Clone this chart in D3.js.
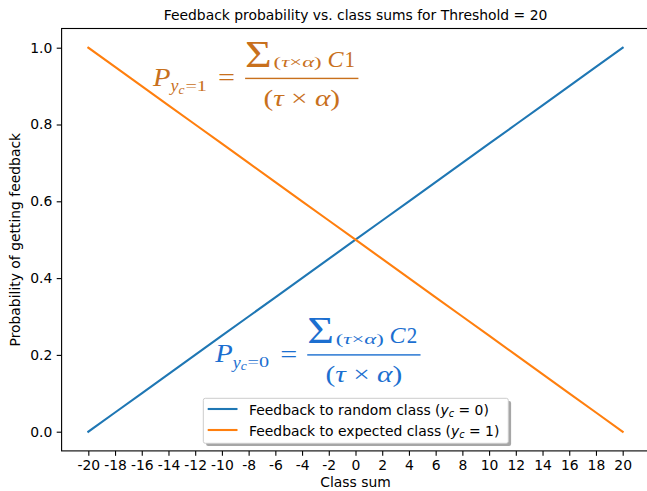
<!DOCTYPE html>
<html>
<head>
<meta charset="utf-8">
<script src="https://cdn.jsdelivr.net/npm/d3@7"></script>
<style>
  html, body { margin: 0; padding: 0; background: #fff; }
  svg { display: block; }
  text { font-family: "DejaVu Sans", sans-serif; }
</style>
</head>
<body>
<svg id="chart" width="647" height="491"></svg>
<script>
// Class sums and the two feedback probabilities
const classSums = [-20, -18, -16, -14, -12, -10, -8, -6, -4, -2, 0, 2, 4, 6, 8, 10, 12, 14, 16, 18, 20];
const probRandom = [0.0, 0.05, 0.1, 0.15, 0.2, 0.25, 0.3, 0.35, 0.4, 0.45, 0.5, 0.55, 0.6, 0.65, 0.7, 0.75, 0.8, 0.85, 0.9, 0.95, 1.0];
const probExpected = [1.0, 0.95, 0.9, 0.85, 0.8, 0.75, 0.7, 0.65, 0.6, 0.55, 0.5, 0.45, 0.4, 0.35, 0.3, 0.25, 0.2, 0.15, 0.1, 0.05, 0.0];
const xTickValues = [-20, -18, -16, -14, -12, -10, -8, -6, -4, -2, 0, 2, 4, 6, 8, 10, 12, 14, 16, 18, 20];
const xTickLabels = ["-20", "-18", "-16", "-14", "-12", "-10", "-8", "-6", "-4", "-2", "0", "2", "4", "6", "8", "10", "12", "14", "16", "18", "20"];
const yTickValues = [0.0, 0.2, 0.4, 0.6, 0.8, 1.0];
const yTickLabels = ["0.0", "0.2", "0.4", "0.6", "0.8", "1.0"];
const seriesNames = ["Feedback to random class", "Feedback to expected class"];
const seriesLabelValues = ["0", "1"];

const svg = d3.select("#chart");
const plot = { left: 61.6, right: 649.4, top: 28.5, bottom: 450.9 };

const x = d3.scaleLinear().domain([-22, 22]).range([plot.left, plot.right]);
const y = d3.scaleLinear().domain([-0.05, 1.05]).range([plot.bottom, plot.top]);

const BLUE = "#1f77b4", ORANGE = "#ff7f0e";
const FS = 13.9;

// Axes
const xAxis = d3.axisBottom(x)
  .tickValues(xTickValues)
  .tickFormat((d, i) => xTickLabels[i])
  .tickSize(4.9).tickPadding(4.4);
const yAxis = d3.axisLeft(y)
  .tickValues(yTickValues)
  .tickFormat((d, i) => yTickLabels[i])
  .tickSize(4.9).tickPadding(4.4);

const gx = svg.append("g").attr("transform", `translate(0,${plot.bottom})`).call(xAxis);
const gy = svg.append("g").attr("transform", `translate(${plot.left},0)`).call(yAxis);
[gx, gy].forEach(g => {
  g.select(".domain").remove();
  g.selectAll(".tick line").attr("stroke", "#000").attr("stroke-width", 1.1);
  g.selectAll(".tick text").attr("fill", "#000").style("font-size", FS + "px")
    .style("font-family", "DejaVu Sans");
});

// Lines
const lineGen = d3.line().x(d => x(d[0])).y(d => y(d[1]));
svg.append("clipPath").attr("id", "plotclip").append("rect")
  .attr("x", plot.left).attr("y", plot.top)
  .attr("width", plot.right - plot.left).attr("height", plot.bottom - plot.top);
const lines = svg.append("g").attr("clip-path", "url(#plotclip)");
lines.append("path")
  .datum(classSums.map((c, i) => [c, probRandom[i]]))
  .attr("d", lineGen).attr("fill", "none").attr("stroke", BLUE)
  .attr("stroke-width", 2.1).attr("stroke-linecap", "square");
lines.append("path")
  .datum(classSums.map((c, i) => [c, probExpected[i]]))
  .attr("d", lineGen).attr("fill", "none").attr("stroke", ORANGE)
  .attr("stroke-width", 2.1).attr("stroke-linecap", "square");

// Frame
svg.append("rect")
  .attr("x", plot.left).attr("y", plot.top)
  .attr("width", plot.right - plot.left).attr("height", plot.bottom - plot.top)
  .attr("fill", "none").attr("stroke", "#000").attr("stroke-width", 1.1);

// Title and axis labels
svg.append("text").attr("x", (plot.left + plot.right) / 2).attr("y", 20.2)
  .attr("text-anchor", "middle").style("font-size", FS + "px")
  .text("Feedback probability vs. class sums for Threshold = 20");
svg.append("text").attr("x", (plot.left + plot.right) / 2).attr("y", 487)
  .attr("text-anchor", "middle").style("font-size", FS + "px")
  .text("Class sum");
svg.append("text")
  .attr("transform", `translate(20,${(plot.top + plot.bottom) / 2}) rotate(-90)`)
  .attr("text-anchor", "middle").style("font-size", FS + "px")
  .text("Probability of getting feedback");

// Probability formulas, drawn piece by piece relative to the left edge of P
// and the height of the fraction bar. Each piece is a list of [text, italic].
function drawFormula(cx, cy, color, subDigit, numDigit) {
  const g = svg.append("g").attr("fill", color)
    .attr("transform", `translate(${cx},${cy})`);
  const piece = (parts, px, py, size, len) => {
    const t = g.append("text").attr("x", px).attr("y", py)
      .style("font-size", size + "px")
      .style("font-family", "Liberation Serif, DejaVu Serif, serif");
    parts.forEach(([s, it]) => t.append("tspan")
      .style("font-style", it ? "italic" : "normal").text(s));
    if (len) t.attr("textLength", len).attr("lengthAdjust", "spacingAndGlyphs");
    return t;
  };
  piece([["P", 1]], 0, 7.4, 26, 17.5);
  piece([["y", 1]], 17.5, 12.6, 17, 8);
  piece([["c", 1]], 25.5, 15.4, 12, 6);
  piece([["=" + subDigit, 0]], 32.3, 12.1, 15, 21.5);
  piece([["=", 0]], 65, 7.8, 26, 17);
  g.append("rect").attr("x", 92).attr("y", -0.7).attr("width", 113.3).attr("height", 1.4);
  piece([["\u03A3", 0]], 92, -11.6, 38, 26.7);
  piece([["(", 0], ["\u03C4", 1], ["\u00D7", 0], ["\u03B1", 1], [")", 0]], 120.5, -11.0, 15, 48);
  piece([["C", 1]], 174.3, -11.6, 23, 16);
  piece([[numDigit, 0]], 191.5, -11.6, 23, 10.5);
  piece([["(", 0], ["\u03C4", 1], [" \u00D7 ", 0], ["\u03B1", 1], [")", 0]], 110.3, 27.2, 23, 76.7);
}
drawFormula(x(-15.15), y(0.92), "#c8701c", "1", "1");
drawFormula(x(-10.5), y(0.2), "#1c6fd0", "0", "2");

// Legend with drop shadow
const leg = { x: 203.3, y: 398.3, w: 305, h: 45 };
svg.append("rect").attr("x", leg.x + 2.8).attr("y", leg.y + 2.8)
  .attr("width", leg.w).attr("height", leg.h).attr("rx", 2)
  .attr("fill", "#000").attr("fill-opacity", 0.35);
svg.append("rect").attr("x", leg.x).attr("y", leg.y)
  .attr("width", leg.w).attr("height", leg.h).attr("rx", 2)
  .attr("fill", "#fff").attr("stroke", "#cccccc").attr("stroke-width", 1);

const legendColors = [BLUE, ORANGE];
seriesNames.forEach((name, i) => {
  const ly = 409 + i * 21;
  svg.append("line").attr("x1", 207.7).attr("x2", 237.5).attr("y1", ly).attr("y2", ly)
    .attr("stroke", legendColors[i]).attr("stroke-width", 2.1);
  const t = svg.append("text").attr("x", 249).attr("y", ly + 5.5)
    .style("font-size", FS + "px");
  t.append("tspan").text(name + " (");
  t.append("tspan").style("font-style", "italic").text("y");
  t.append("tspan").style("font-style", "italic").style("font-size", (FS * 0.7) + "px")
    .attr("dy", 2.5).text("c");
  t.append("tspan").attr("dy", -2.5).text(" = " + seriesLabelValues[i] + ")");
});
</script>
</body>
</html>
